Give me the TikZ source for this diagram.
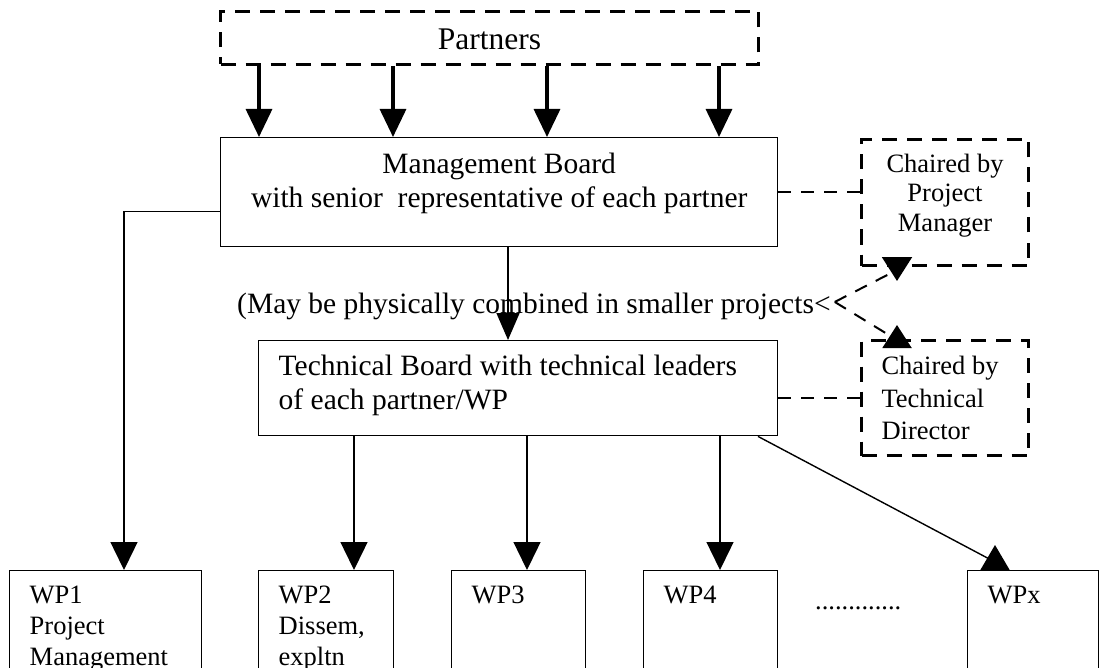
\documentclass[tikz,border=0pt]{standalone}
\usepackage{fontspec}
\setmainfont{Liberation Serif}
\usetikzlibrary{arrows.meta}

\newcommand{\boardfont}{\fontsize{29.5}{34}\selectfont}
\newcommand{\wpfont}{\fontsize{26.5}{31}\selectfont}

\begin{document}
\begin{tikzpicture}[x=1pt, y=-1pt,
  board/.style={draw, line width=1.4pt, anchor=north west, inner xsep=10pt,
                inner ysep=0pt, font=\boardfont},
  chair/.style={draw, line width=3pt, dash pattern=on 15pt off 10pt,
                anchor=north west, inner ysep=0pt, font=\wpfont},
  wpbox/.style={draw, line width=1.4pt, anchor=north west, inner xsep=20pt,
                inner ysep=0pt, align=flush left, font=\wpfont,
                text height=33pt, text depth=110pt},
  txt/.style={inner sep=0pt, anchor=base west},
  arr/.style={-{Triangle[width=27pt, length=28pt]}, line width=1.4pt},
  bigarr/.style={-{Triangle[width=26pt, length=28pt]}, line width=3.3pt},
  dashline/.style={line width=2pt, dash pattern=on 13pt off 10pt},
  dasharr/.style={dashline, -{Triangle[width=30pt, length=24pt]}}
]
\useasboundingbox (0,0) rectangle (1099,668);
\clip (0,0) rectangle (1099,668);

% boards
\node[chair, minimum width=538pt, text height=38pt, text depth=15pt,
      font=\fontsize{31.5}{36}\selectfont] (partners) at (219,10) {Partners};
\node[board, text width=537pt, align=flush center, text height=36pt, text depth=73pt]
  (mb) at (220,137) {Management Board\\with senior\ \ representative of each partner};
\node[board, text width=479pt, inner xsep=20pt, align=flush left, text height=35pt,
      text depth=60pt] (tb) at (258,340)
  {Technical Board with technical leaders\\of each partner/WP};

% chairs
\node[chair, text width=157pt, inner xsep=5pt, align=flush center, text height=33pt,
      text depth=93pt, font=\fontsize{26.5}{29.5}\selectfont] (pm) at (860,138)
  {Chaired by\\Project\\Manager};
\node[chair, text width=127pt, inner xsep=20pt, align=flush left, text height=34pt,
      text depth=81pt, font=\fontsize{26.5}{32.5}\selectfont] (td) at (860,339)
  {Chaired by\\Technical\\Director};

\node[txt, font=\boardfont] (note) at (237,313)
  {(May be physically combined in smaller projects<};

% work packages
\node[wpbox, text width=152pt] (wp1) at (9,570) {WP1\\Project\\Management};
\node[wpbox, text width=95pt] (wp2) at (258,570) {WP2\\Dissem,\\expltn};
\node[wpbox, text width=94pt] (wp3) at (451,570) {WP3};
\node[wpbox, text width=94pt] (wp4) at (643,570) {WP4};
\node[wpbox, text width=91pt] (wpx) at (967,570) {WPx};
\node[txt, font=\wpfont] (dots) at (815,609) {.............};

\coordinate (fork) at ([xshift=4pt, yshift=4pt]note.east);
\coordinate (pmtip) at (897,281);
\coordinate (tdtip) at (897,325);
\coordinate (wpxtip) at (995,545);

\foreach \x in {259,393,547,719}
  \draw[bigarr] (partners.south -| \x,0) -- (mb.north -| \x,0);

\draw[dashline] (mb.east) -- (mb.east -| pm.west);
\draw[dashline] (td.west -| tb.east) -- (td.west);
\draw[dasharr] (fork) -- (897,270) -- (pmtip);
\draw[dasharr, -{Triangle[width=29pt, length=23pt]}] (fork) -- (897,340) -- (tdtip);

\draw[arr, -{Triangle[width=23pt, length=27pt]}] (mb.south -| 508,0) -- (tb.north -| 508,0);
\draw[arr] ([yshift=-19.5pt]mb.west) -| (wp1.north -| 124,0);
\draw[arr] (tb.south -| 354,0) -- (wp2.north -| 354,0);
\draw[arr] (tb.south -| 527,0) -- (wp3.north -| 527,0);
\draw[arr] (tb.south -| 720,0) -- (wp4.north -| 720,0);
\draw[arr, -{Triangle[width=29pt, length=25pt]}] (tb.south -| 758,0) -- (995,562) -- (wpxtip);
\end{tikzpicture}
\end{document}
